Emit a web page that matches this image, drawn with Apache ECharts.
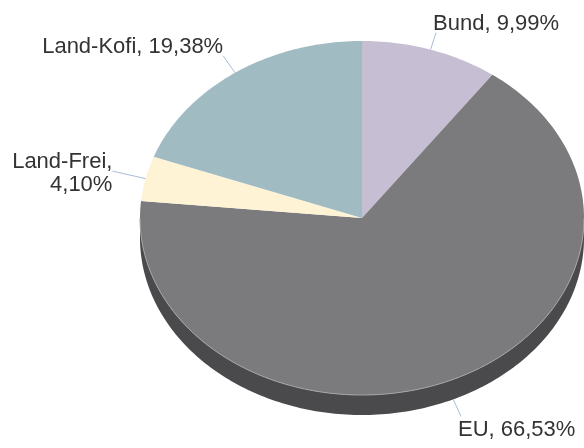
<!DOCTYPE html>
<html>
<head>
<meta charset="utf-8">
<script src="https://cdn.jsdelivr.net/npm/echarts@6/dist/echarts.min.js"></script>
<style>
html,body{margin:0;padding:0;background:#fff}
#box{width:584px;height:448px}
</style>
</head>
<body>
<div id="box"></div>
<script>
// Anteile in Prozent
const names = ["Bund", "EU", "Land-Frei", "Land-Kofi"]
const shares = [9.99, 66.53, 4.10, 19.38]

const topColors = ["#c6bfd4", "#7b7b7d", "#fff3d6", "#a0bbc2"]
const sideColors = ["#8e8799", "#4a494b", "#c9bfa6", "#6f8a91"]

// ellipse layout
const cx = 362, cy = 218, rx = 222, ry = 177, depth = 20
const fontSize = 22
const fontFamily = "'Liberation Sans', Arial, sans-serif"

const total = shares.reduce((a, b) => a + b, 0)
let starts = []
let acc = 0
shares.forEach(v => { starts.push(acc / total * 360); acc += v })

function pt(deg, dy) {
    let a = deg * Math.PI / 180
    return [cx + rx * Math.sin(a), cy - ry * Math.cos(a) + (dy || 0)]
}
function arc(a0, a1, dy) {
    let pts = []
    let n = Math.max(2, Math.ceil(Math.abs(a1 - a0)))
    for (let i = 0; i <= n; i++) pts.push(pt(a0 + (a1 - a0) * i / n, dy))
    return pts
}
const ctx = document.createElement("canvas").getContext("2d")
ctx.font = fontSize + "px " + fontFamily

function pctText(v) { return v.toFixed(2).replace(".", ",") + "%" }

let chart = echarts.init(document.getElementById("box"))
chart.setOption({
    animation: false,
    series: [{
        type: "custom",
        coordinateSystem: "none",
        data: shares,
        renderItem: function (params, api) {
            let i = params.dataIndex
            let a0 = starts[i], a1 = a0 + shares[i] / total * 360
            let children = []
            // Seitenwand (nur untere Hälfte sichtbar)
            let s0 = Math.max(a0, 90), s1 = Math.min(a1, 270)
            if (s1 > s0) {
                children.push({
                    type: "polygon",
                    shape: {points: arc(s0, s1, 0).concat(arc(s1, s0, depth))},
                    style: {fill: sideColors[i]}
                })
            }
            children.push({
                type: "polygon",
                shape: {points: [[cx, cy]].concat(arc(a0, a1, 0))},
                style: {fill: topColors[i]}
            })
            if (s1 > s0) {
                children.push({
                    type: "polyline",
                    shape: {points: arc(s0, s1, 0)},
                    style: {stroke: "#a4a4a6", lineWidth: 1, fill: null}
                })
            }
            // label
            let mid = (a0 + a1) / 2
            let m = mid * Math.PI / 180
            let dx = Math.sin(m), dy = -Math.cos(m)
            let lower = mid > 90 && mid < 270
            let start = pt(mid, lower ? depth : 0)
            let len = 17 / Math.max(Math.abs(dy), 0.5)
            let end = [start[0] + dx * len, start[1] + dy * len]
            children.push({
                type: "line",
                shape: {x1: start[0], y1: start[1], x2: end[0], y2: end[1]},
                style: {stroke: "#a9bcd6", lineWidth: 1}
            })
            let right = dx >= 0
            let txt = names[i] + ", " + pctText(shares[i])
            let w = ctx.measureText(txt).width
            if ((right && end[0] + w > 584) || (!right && end[0] - w < 0)) {
                txt = names[i] + ",\n" + pctText(shares[i])
            }
            let ty = end[1]
            if (Math.abs(dy) >= 0.5) ty += dy < 0 ? -9 : 14
            else ty += 2
            children.push({
                type: "text",
                x: end[0] + (right ? -3 : 0),
                y: ty,
                style: {
                    text: txt,
                    fill: "#333333",
                    font: fontSize + "px " + fontFamily,
                    align: right ? "left" : "right",
                    verticalAlign: "middle",
                    lineHeight: 23
                }
            })
            return {type: "group", children: children}
        }
    }]
})
</script>
</body>
</html>
